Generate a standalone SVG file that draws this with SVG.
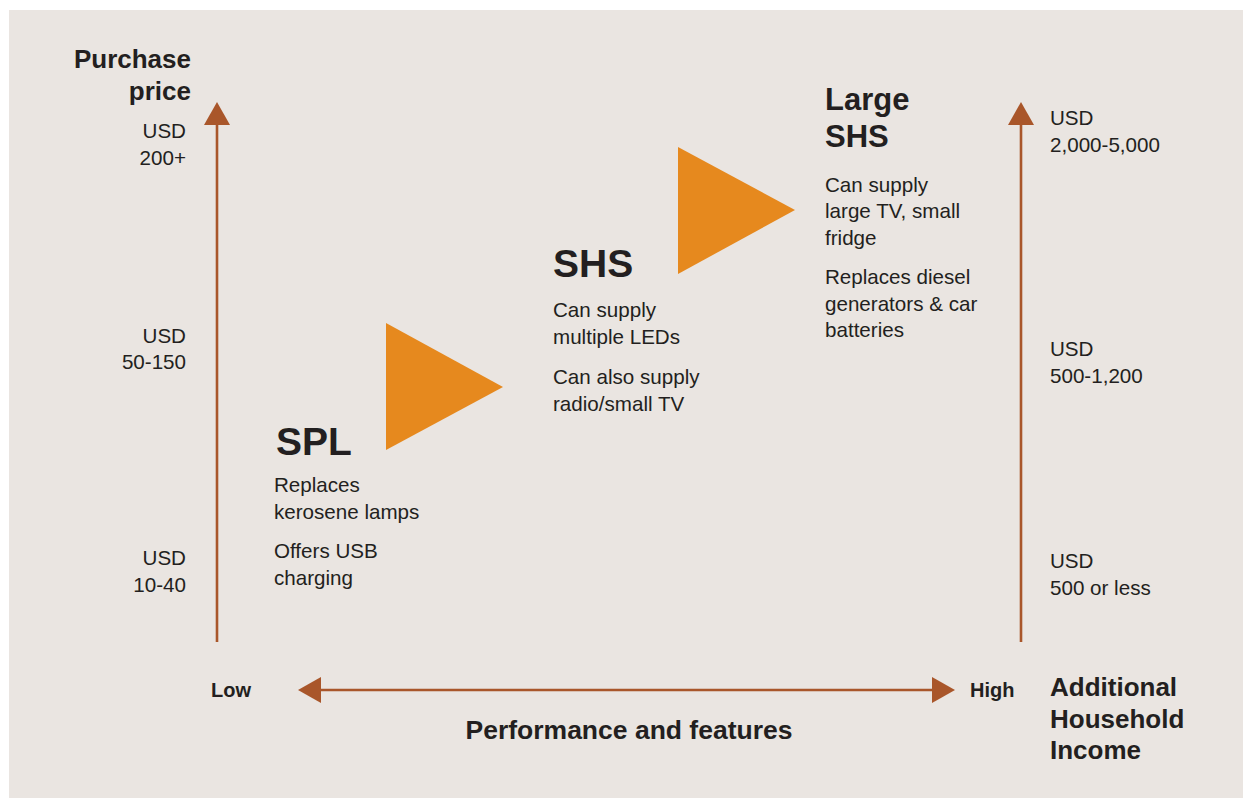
<svg xmlns="http://www.w3.org/2000/svg" width="1243" height="798" viewBox="0 0 1243 798">
<style>
text{font-family:"Liberation Sans",Arial,Helvetica,sans-serif;fill:#231f20}
.t{font-size:20.6px}
.ax{font-size:26px;font-weight:bold}
.pf{font-size:26.5px;font-weight:bold}
.lh{font-size:20px;font-weight:bold}
.h1{font-size:39px;font-weight:bold}
.h2{font-size:31px;font-weight:bold}
.tri{fill:#e6891e}
.axis{stroke:#a9562a;stroke-width:2.6;fill:none}
.r{text-anchor:end}
</style>
<defs>
<marker id="ah" markerUnits="userSpaceOnUse" markerWidth="24" markerHeight="26" refX="0" refY="13" orient="auto-start-reverse" viewBox="0 0 24 26">
<path d="M0,0 L23,13 L0,26 Z" fill="#a9562a"/>
</marker>
</defs>
<rect x="9" y="10" width="1234" height="788" fill="#eae5e1"/>
<g id="connectors">
<line class="axis" x1="217" y1="642" x2="217" y2="125" marker-end="url(#ah)"/>
<line class="axis" x1="1021" y1="642" x2="1021" y2="125" marker-end="url(#ah)"/>
<line class="axis" x1="321" y1="690" x2="932" y2="690" marker-start="url(#ah)" marker-end="url(#ah)"/>
</g>
<g id="axis-price">
<text class="ax r" x="191" y="68">Purchase</text>
<text class="ax r" x="191" y="100">price</text>
<text class="t r" x="186" y="138">USD</text>
<text class="t r" x="186" y="165">200+</text>
<text class="t r" x="186" y="343">USD</text>
<text class="t r" x="186" y="369">50-150</text>
<text class="t r" x="186" y="565">USD</text>
<text class="t r" x="186" y="592">10-40</text>
</g>
<g id="axis-income">
<text class="t" x="1050" y="125">USD</text>
<text class="t" x="1050" y="152">2,000-5,000</text>
<text class="t" x="1050" y="356">USD</text>
<text class="t" x="1050" y="383">500-1,200</text>
<text class="t" x="1050" y="568">USD</text>
<text class="t" x="1050" y="595">500 or less</text>
<text class="ax" x="1050" y="696">Additional</text>
<text class="ax" x="1050" y="728">Household</text>
<text class="ax" x="1050" y="759">Income</text>
</g>
<g id="axis-performance">
<text class="lh" x="211" y="697">Low</text>
<text class="lh" x="970" y="697">High</text>
<text class="pf" x="629" y="739" text-anchor="middle">Performance and features</text>
</g>
<g id="node-spl">
<text class="h1" x="276" y="455">SPL</text>
<text class="t" x="274" y="492">Replaces</text>
<text class="t" x="274" y="519">kerosene lamps</text>
<text class="t" x="274" y="558">Offers USB</text>
<text class="t" x="274" y="585">charging</text>
</g>
<g id="step-1">
<polygon class="tri" points="386,323 386,450 503,387"/>
</g>
<g id="node-shs">
<text class="h1" x="553" y="277">SHS</text>
<text class="t" x="553" y="317">Can supply</text>
<text class="t" x="553" y="344">multiple LEDs</text>
<text class="t" x="553" y="384">Can also supply</text>
<text class="t" x="553" y="411">radio/small TV</text>
</g>
<g id="step-2">
<polygon class="tri" points="678,147 678,274 795,210"/>
</g>
<g id="node-large-shs">
<text class="h2" x="825" y="110">Large</text>
<text class="h2" x="825" y="147">SHS</text>
<text class="t" x="825" y="192">Can supply</text>
<text class="t" x="825" y="218">large TV, small</text>
<text class="t" x="825" y="245">fridge</text>
<text class="t" x="825" y="284">Replaces diesel</text>
<text class="t" x="825" y="311">generators &amp; car</text>
<text class="t" x="825" y="337">batteries</text>
</g>
</svg>
